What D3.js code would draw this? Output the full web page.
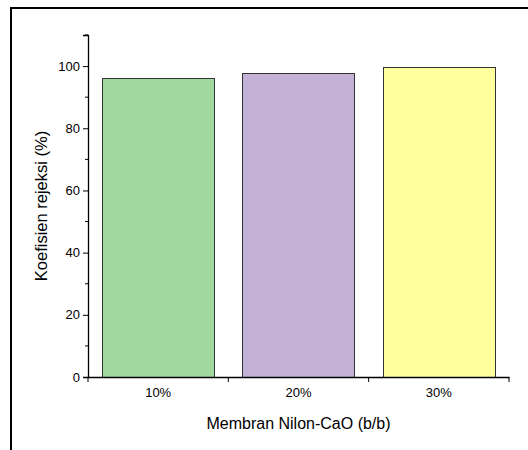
<!DOCTYPE html>
<html>
<head>
<meta charset="utf-8">
<script src="https://cdn.jsdelivr.net/npm/d3@7"></script>
<style>
  body { margin: 0; background: #fff; }
  text { font-family: "Liberation Sans", Arial, sans-serif; fill: #000; }
</style>
</head>
<body>
<script>
// data
var categories = ['10%', '20%', '30%'];
var rejection = [96.2, 97.8, 99.6];
var barColors = ['#a0d89e', '#c3b1d6', '#ffff9f'];
var yTicks = [0, 20, 40, 60, 80, 100];
var yMinorTicks = [10, 30, 50, 70, 90, 110];

var width = 528, height = 450;
var margin = { left: 88, right: 19, top: 35, bottom: 73 };

var svg = d3.select('body')
    .append('svg')
    .attr('width', width)
    .attr('height', height);

svg.append('rect')
    .attr('width', width)
    .attr('height', height)
    .attr('fill', '#fff');

// outer frame (left + top only visible)
svg.append('path')
    .attr('d', 'M11,' + height + 'V8H' + width)
    .attr('fill', 'none')
    .attr('stroke', '#000')
    .attr('stroke-width', 2);

var x = d3.scaleBand()
    .domain(categories)
    .range([margin.left, width - margin.right])
    .paddingInner(0.2)
    .paddingOuter(0.1);

var y = d3.scaleLinear()
    .domain([0, 110])
    .range([height - margin.bottom, margin.top]);

// bars
svg.append('g').selectAll('rect').data(categories).enter()
    .append('rect')
    .attr('x', function (d) { return Math.round(x(d)) + 0.5; })
    .attr('y', function (d, i) { return Math.round(y(rejection[i])) + 0.5; })
    .attr('width', function () { return Math.round(x.bandwidth()); })
    .attr('height', function (d, i) { return Math.round(y(0)) - Math.round(y(rejection[i])); })
    .attr('fill', function (d, i) { return barColors[i]; })
    .attr('stroke', '#333')
    .attr('stroke-width', 1);

// y axis
var yAxis = svg.append('g')
    .attr('transform', 'translate(' + margin.left + ',0)')
    .call(d3.axisLeft(y).tickValues(yTicks).tickSize(5).tickPadding(3));
yAxis.append('g').selectAll('line').data(yMinorTicks).enter()
    .append('line')
    .attr('x1', -3).attr('x2', 0)
    .attr('y1', function (d) { return y(d); })
    .attr('y2', function (d) { return y(d); })
    .attr('stroke', '#000');

// x axis
var xAxis = svg.append('g')
    .attr('transform', 'translate(0,' + y(0) + ')')
    .call(d3.axisBottom(x).tickSize(0).tickPadding(11));
var edges = [margin.left].concat(categories.map(function (d) {
    return x(d) + x.bandwidth() + x.step() * x.paddingInner() / 2;
}));
edges[edges.length - 1] = width - margin.right;
xAxis.append('g').selectAll('line').data(edges).enter()
    .append('line')
    .attr('x1', function (d) { return d; })
    .attr('x2', function (d) { return d; })
    .attr('y1', 0).attr('y2', 5)
    .attr('stroke', '#000');

svg.selectAll('.domain').attr('stroke', '#000').attr('stroke-width', 1.3);
svg.selectAll('.tick line').attr('stroke', '#000');
svg.selectAll('.tick text')
    .style('font-family', '"Liberation Sans", Arial, sans-serif')
    .style('font-size', '13px')
    .attr('fill', '#000');

// axis titles
svg.append('text')
    .attr('transform', 'translate(47,' + (y(0) + y(110)) / 2 + ') rotate(-90)')
    .attr('text-anchor', 'middle')
    .style('font-size', '16.5px')
    .text('Koefisien rejeksi (%)');

svg.append('text')
    .attr('x', x('20%') + x.bandwidth() / 2)
    .attr('y', 429)
    .attr('text-anchor', 'middle')
    .style('font-size', '16px')
    .text('Membran Nilon-CaO (b/b)');
</script>
</body>
</html>
